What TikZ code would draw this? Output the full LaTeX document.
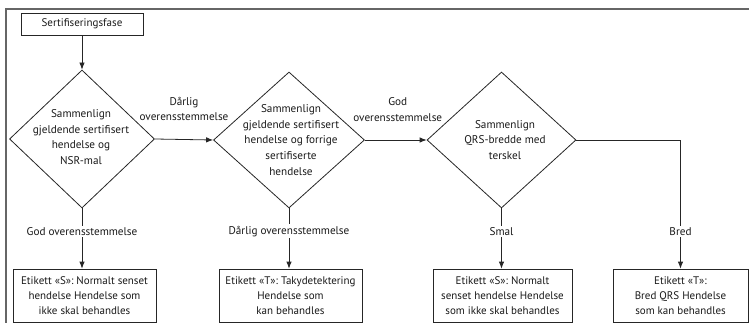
\documentclass[tikz,border=0pt]{standalone}
\usepackage{fontspec}
\setmainfont{PT Sans}
\usetikzlibrary{shapes.geometric,arrows.meta}
\begin{document}
\begin{tikzpicture}[x=1pt,y=-1pt,
  every node/.style={font=\fontsize{11.2}{15.8}\selectfont, text=black!90},
  ln/.style={draw=black!85, line width=0.8pt},
  arr/.style={ln, -{Latex[length=7pt,width=5.5pt]}},
  dia/.style={diamond, draw=black!85, line width=0.8pt, inner sep=0pt},
  txt/.style={align=center, inner sep=0pt},
  boxn/.style={rectangle, draw=black!85, line width=0.8pt, align=center, inner sep=0pt, font=\fontsize{11}{14.8}\selectfont},
  vlab/.style={fill=white, inner sep=1.5pt},
  hlab/.style={align=center, inner sep=0pt, above=18pt}]
\path[use as bounding box] (0,0) rectangle (749,323);
% outer frame
\draw[draw=black!60, line width=1.1pt] (6,330) -- (6,9) -- (760,9);
% start
\node[boxn, minimum width=122pt, minimum height=22pt] (s) at (82,24) {Sertifiseringsfase};
% diamonds
\node[dia, minimum width=145pt, minimum height=138pt] (d1) at (82,139) {};
\node[txt] (t1) at (81,137) {Sammenlign\\gjeldende sertifisert\\hendelse og\\NSR-mal};
\node[dia, minimum width=151pt, minimum height=136pt] (d2) at (289,140) {};
\node[txt] (t2) at (291,140) {Sammenlign\\gjeldende sertifisert\\hendelse og forrige\\sertifiserte\\hendelse};
\node[dia, minimum width=149pt, minimum height=136pt] (d3) at (501.5,140) {};
\node[txt] (t3) at (505,140) {Sammenlign\\QRS-bredde med\\terskel};
% bottom boxes
\node[boxn, minimum width=143pt, minimum height=53pt] (b1) at (84.5,295.5) {Etikett «S»: Normalt senset\\hendelse Hendelse som\\ikke skal behandles};
\node[boxn, minimum width=143pt, minimum height=53pt] (b2) at (290.5,295.5) {Etikett «T»: Takydetektering\\Hendelse som\\kan behandles};
\node[boxn, minimum width=139pt, minimum height=53pt] (b3) at (502.5,295.5) {Etikett «S»: Normalt\\senset hendelse Hendelse\\som ikke skal behandles};
\node[boxn, minimum width=135pt, minimum height=53pt] (b4) at (680.5,295.5) {Etikett «T»:\\Bred QRS Hendelse\\som kan behandles};
% connectors
\draw[arr] (s.south) -- (d1.north);
\draw[arr] (d1.east) -- node[hlab] {Dårlig\\overensstemmelse} (d2.west);
\draw[arr] (d2.east) -- node[hlab, xshift=2pt] {God\\overensstemmelse} (d3.west);
\draw[arr] (d1.south) -- node[vlab, pos=0.38] {God overensstemmelse} (d1.south |- b1.north);
\draw[arr] (d2.south) -- node[vlab, pos=0.38] {Dårlig overensstemmelse} (d2.south |- b2.north);
\draw[arr] (d3.south) -- node[vlab, pos=0.38] {Smal} (d3.south |- b3.north);
\draw[arr] (d3.east) -| node[vlab, pos=0.855] {Bred} (b4.north);
\end{tikzpicture}
\end{document}
